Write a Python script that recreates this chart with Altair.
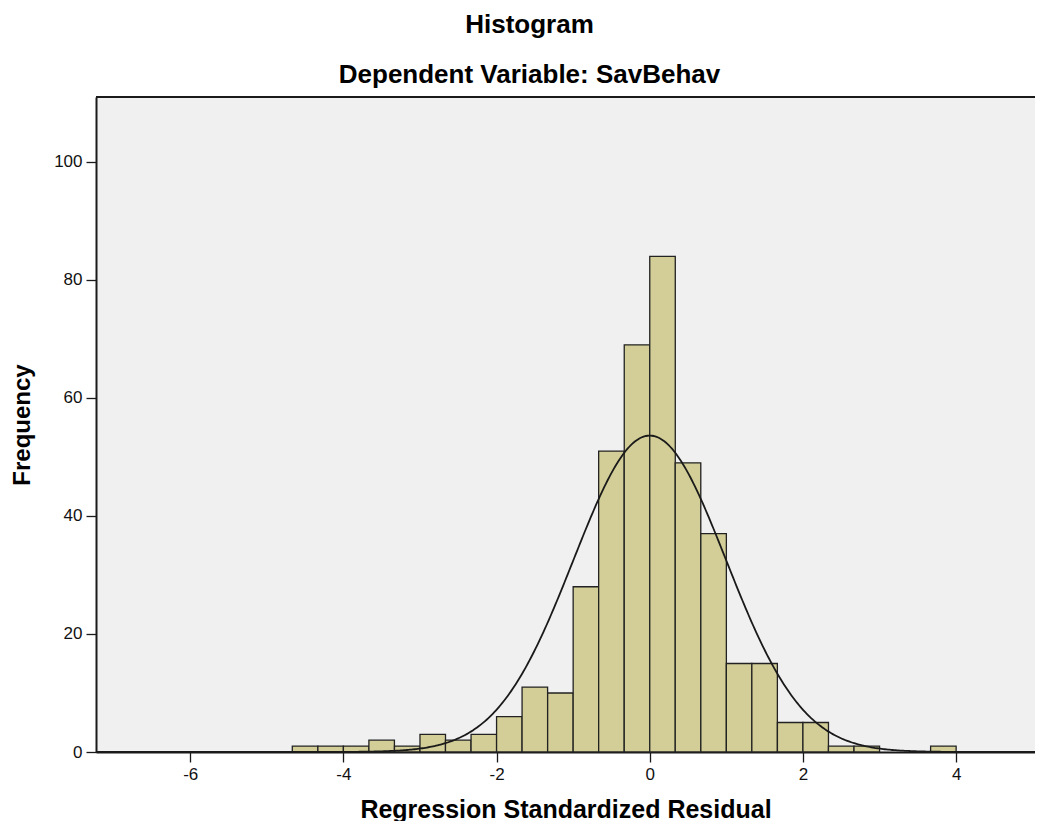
import altair as alt
import pandas as pd

# ---- data ----
bin_width = 1 / 3
bin_left = [-4.667, -4.333, -4.0, -3.667, -3.333, -3.0, -2.667, -2.333, -2.0,
            -1.667, -1.333, -1.0, -0.667, -0.333, 0.0, 0.333, 0.667, 1.0,
            1.333, 1.667, 2.0, 2.333, 2.667, 3.667]
counts = [1, 1, 1, 2, 1, 3, 2, 3, 6, 11, 10, 28, 51, 69, 84, 49, 37, 15,
          15, 5, 5, 1, 1, 1]
x_ticks = [-6, -4, -2, 0, 2, 4]
y_ticks = [0, 20, 40, 60, 80, 100]
resid_mean = 0.0
resid_sd = 0.997
n_obs = 402

x_domain = [-7.23, 5.03]
y_domain = [0, 111]

FONT = "Liberation Sans"
W, H = 939, 655

df = pd.DataFrame({
    "left": bin_left,
    "right": [v + bin_width for v in bin_left],
    "count": counts,
})

xs = alt.Scale(domain=x_domain, nice=False, zero=False)
ys = alt.Scale(domain=y_domain, nice=False, zero=False)

bars = alt.Chart(df).mark_rect(
    fill="#D3CE97", stroke="#222222", strokeWidth=1.3
).encode(
    x=alt.X("left:Q", scale=xs,
            axis=alt.Axis(values=x_ticks, title="Regression Standardized Residual",
                          labelExpr="toString(datum.value)",
                          titlePadding=15, titleFontSize=25)),
    x2="right:Q",
    y=alt.Y("count:Q", scale=ys,
            axis=alt.Axis(values=y_ticks, title="Frequency", titlePadding=19,
                          labelExpr="toString(datum.value)", titleFontSize=24)),
    y2=alt.datum(0),
)

curve = alt.Chart(alt.sequence(x_domain[0], x_domain[1], 0.02, as_="x")).transform_calculate(
    y=f"{n_obs}*{bin_width}/({resid_sd}*sqrt(2*PI))*exp(-0.5*pow((datum.x-{resid_mean})/{resid_sd},2))"
).mark_line(color="#1a1a1a", strokeWidth=1.8).encode(
    x=alt.X("x:Q", scale=xs),
    y=alt.Y("y:Q", scale=ys),
)

top_border = alt.Chart(pd.DataFrame({"a": [0]})).mark_rule(
    color="#1a1a1a", strokeWidth=2
).encode(y=alt.value(0), x=alt.value(0), x2=alt.value(W))

chart = alt.layer(bars, curve, top_border).properties(
    width=W,
    height=H,
    padding={"left": 88, "top": 89, "right": 0, "bottom": 69},
    autosize=alt.AutoSizeParams(type="none"),
    title=alt.Title(
        "Histogram",
        subtitle="Dependent Variable: SavBehav",
        font=FONT, fontSize=26, fontWeight="bold", color="#000",
        subtitleFont=FONT, subtitleFontSize=26, subtitleFontWeight="bold",
        subtitleColor="#000", subtitlePadding=24, offset=8, dx=-36,
        anchor="middle",
    ),
).configure_view(
    fill="#F0F0F0", strokeWidth=0
).configure_axis(
    grid=False,
    labelFont=FONT, labelFontSize=17, labelColor="#111",
    tickColor="#1a1a1a", tickSize=10, tickWidth=1.3,
    domainColor="#1a1a1a", domainWidth=2,
    titleFont=FONT, titleFontWeight="bold", titleColor="#000",
    labelPadding=4,
)

chart.save("out.html", embed_options={"renderer": "svg", "actions": False})
